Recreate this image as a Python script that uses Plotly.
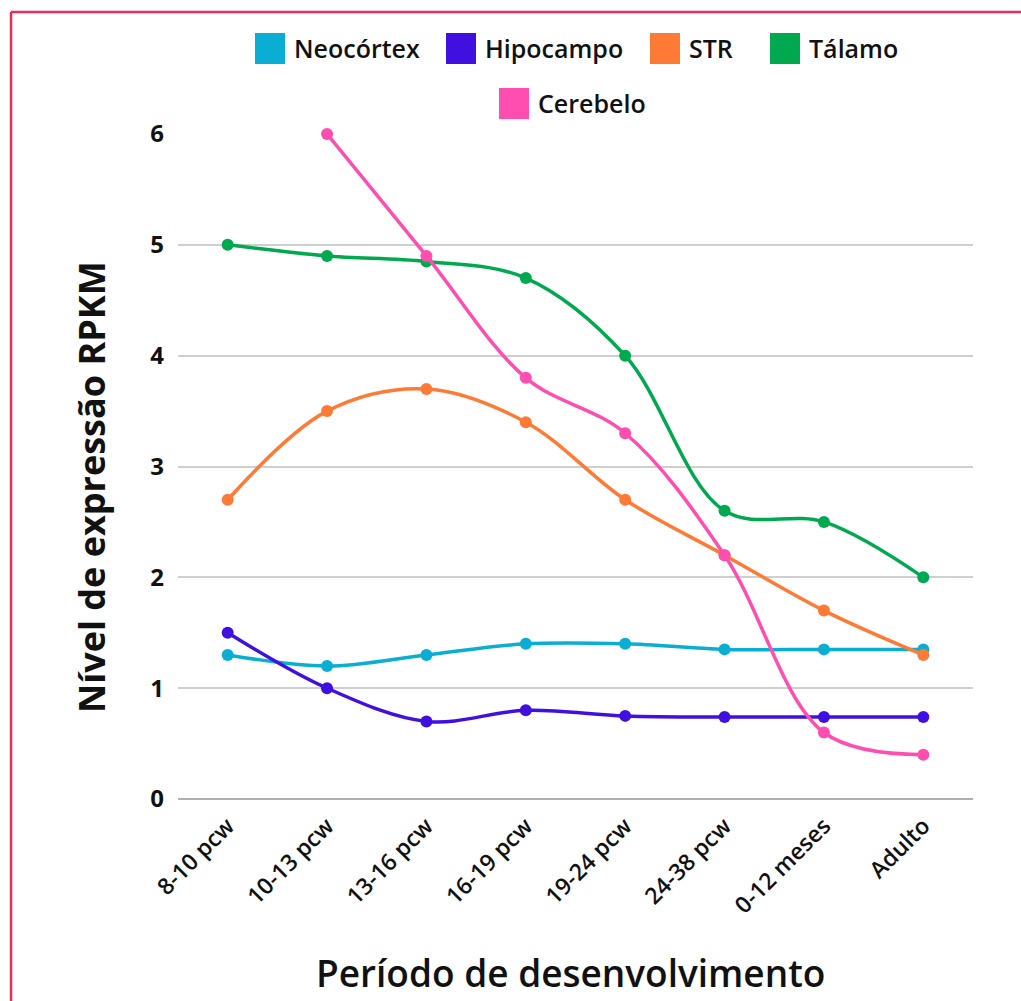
import plotly.graph_objects as go

# Developmental periods (x categories)
periods = ["8-10 pcw", "10-13 pcw", "13-16 pcw", "16-19 pcw", "19-24 pcw",
           "24-38 pcw", "0-12 meses", "Adulto"]

# RPKM expression per brain region
neocortex = [1.3, 1.2, 1.3, 1.4, 1.4, 1.35, 1.35, 1.35]
hipocampo = [1.5, 1.0, 0.7, 0.8, 0.75, 0.74, 0.74, 0.74]
str_vals = [2.7, 3.5, 3.7, 3.4, 2.7, 2.2, 1.7, 1.3]
talamo = [5.0, 4.9, 4.85, 4.7, 4.0, 2.6, 2.5, 2.0]
cerebelo = [None, 6.0, 4.9, 3.8, 3.3, 2.2, 0.6, 0.4]

series_names = ["Neocórtex", "Hipocampo", "STR", "Tálamo", "Cerebelo"]
series_values = [neocortex, hipocampo, str_vals, talamo, cerebelo]
series_colors = ["#0aaed3", "#4010e0", "#ff7a35", "#00a84f", "#ff4db0"]

y_ticks = [0, 1, 2, 3, 4, 5, 6]

FONT = "Open Sans, Noto Sans, DejaVu Sans, sans-serif"

# plot area in pixels
W, H = 1021, 1001
L, R, T, B = 178, 973, 134, 799


def px(x):
    return (x - L) / (R - L)


def py(y):
    return (B - y) / (B - T)


fig = go.Figure()

for name, vals, col in zip(series_names, series_values, series_colors):
    fig.add_trace(go.Scatter(
        x=periods, y=vals, name=name, mode="lines+markers",
        line=dict(color=col, width=3.5, shape="spline", smoothing=1.0),
        marker=dict(color=col, size=12),
        cliponaxis=False, showlegend=False,
    ))

shapes = []
annotations = []

# Custom legend: square swatches with labels
legend_rows = [
    [(0, 255), (1, 446), (2, 650), (3, 770)],
    [(4, 499)],
]
row_centers = [48, 103]
for row, yc in zip(legend_rows, row_centers):
    for idx, x0 in row:
        shapes.append(dict(
            type="rect", xref="paper", yref="paper",
            x0=px(x0), x1=px(x0 + 30), y0=py(yc + 16), y1=py(yc - 15),
            fillcolor=series_colors[idx], line=dict(width=0),
        ))
        annotations.append(dict(
            text=series_names[idx], xref="paper", yref="paper",
            x=px(x0 + 37), y=py(yc), xanchor="left", yanchor="middle",
            showarrow=False,
            font=dict(family=FONT, size=25, color="#111111", weight=600),
        ))

# Frame lines along the top and left edges
shapes.append(dict(type="line", xref="paper", yref="paper",
                   x0=px(11), x1=px(1030), y0=py(12), y1=py(12),
                   line=dict(color="#ea2e5c", width=2.5)))
shapes.append(dict(type="line", xref="paper", yref="paper",
                   x0=px(11), x1=px(11), y0=py(12), y1=py(1010),
                   line=dict(color="#ea2e5c", width=2.5)))

# Axis titles
annotations.append(dict(
    text="Nível de expressão RPKM", xref="paper", yref="paper",
    x=px(92), y=py(487), textangle=-90, showarrow=False,
    xanchor="center", yanchor="middle",
    font=dict(family=FONT, size=36, color="#111111", weight=700),
))
annotations.append(dict(
    text="Período de desenvolvimento", xref="paper", yref="paper",
    x=px(570), y=py(972), showarrow=False,
    xanchor="center", yanchor="middle",
    font=dict(family=FONT, size=37, color="#111111", weight=600),
))

fig.update_layout(
    width=W, height=H,
    margin=dict(l=L, r=W - R, t=T, b=H - B, autoexpand=False),
    paper_bgcolor="white", plot_bgcolor="white",
    showlegend=False,
    shapes=shapes, annotations=annotations,
    xaxis=dict(
        type="category", range=[-0.5, 7.5], tickangle=-45,
        showgrid=False, zeroline=False, showline=False, ticks="",
        tickfont=dict(family=FONT, size=23, color="#111111", weight=600),
        ticklabelstandoff=8,
    ),
    yaxis=dict(
        range=[0, 6], tickvals=y_ticks, ticktext=[str(v) for v in y_ticks],
        showgrid=True, gridcolor="#cfcfcf", gridwidth=2,
        zeroline=True, zerolinecolor="#b0b0b0", zerolinewidth=2,
        showline=False, ticks="",
        tickfont=dict(family=FONT, size=24, color="#111111", weight=700),
        ticklabelstandoff=13,
    ),
)

fig.write_html("out.html")
